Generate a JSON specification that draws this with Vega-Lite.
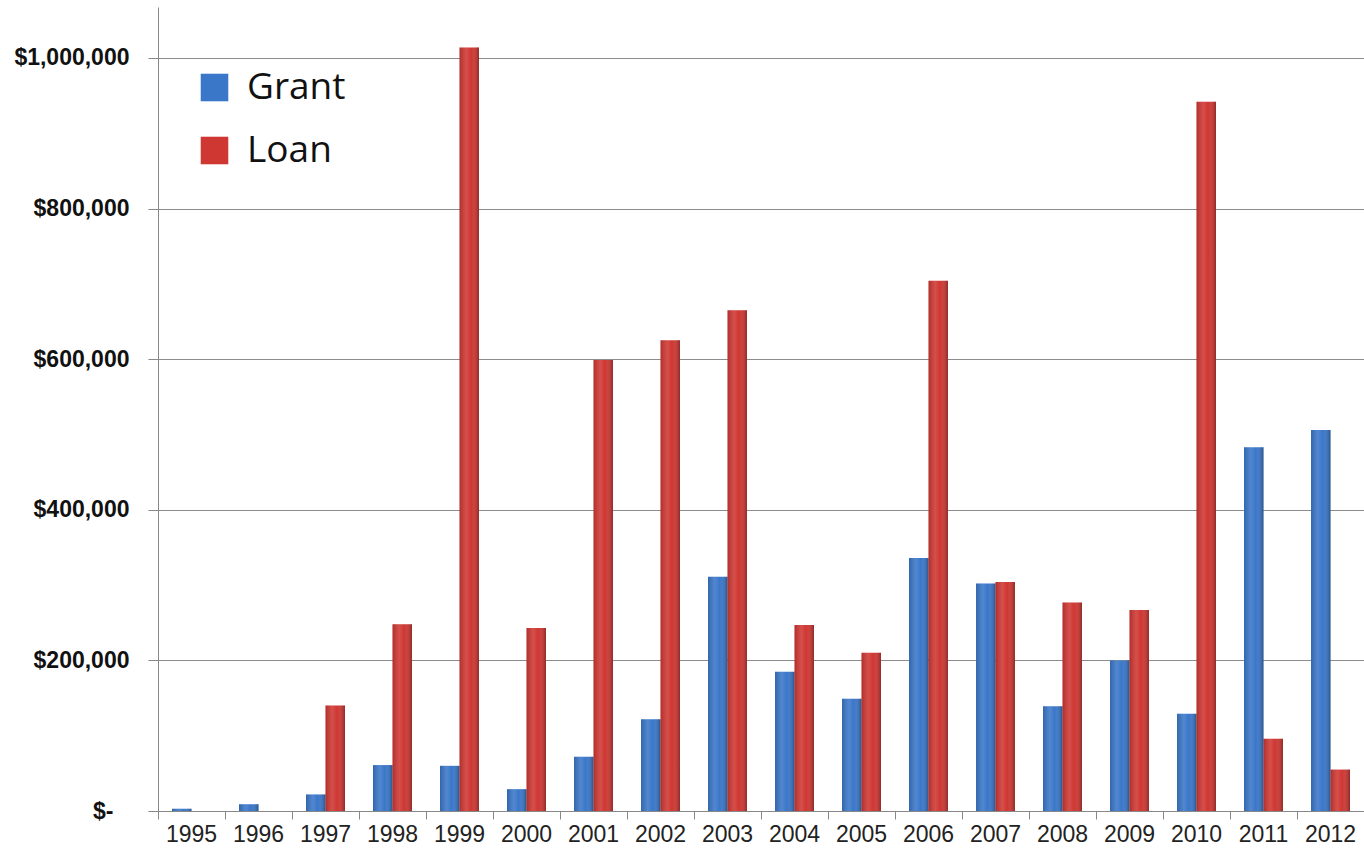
{
  "$schema": "https://vega.github.io/schema/vega-lite/v6.json",
  "autosize": {"type": "none"},
  "width": 1206,
  "height": 804,
  "padding": {"left": 158, "top": 7, "right": 0, "bottom": 46},
  "background": "white",
  "config": {"view": {"stroke": null}},
  "data": {
    "values": [
      {"year": "1995", "type": "Grant", "amount": 3000},
      {"year": "1995", "type": "Loan", "amount": 0},
      {"year": "1996", "type": "Grant", "amount": 9000},
      {"year": "1996", "type": "Loan", "amount": 0},
      {"year": "1997", "type": "Grant", "amount": 22000},
      {"year": "1997", "type": "Loan", "amount": 140000},
      {"year": "1998", "type": "Grant", "amount": 61000},
      {"year": "1998", "type": "Loan", "amount": 248000},
      {"year": "1999", "type": "Grant", "amount": 60000},
      {"year": "1999", "type": "Loan", "amount": 1014000},
      {"year": "2000", "type": "Grant", "amount": 29000},
      {"year": "2000", "type": "Loan", "amount": 243000},
      {"year": "2001", "type": "Grant", "amount": 72000},
      {"year": "2001", "type": "Loan", "amount": 599000},
      {"year": "2002", "type": "Grant", "amount": 122000},
      {"year": "2002", "type": "Loan", "amount": 625000},
      {"year": "2003", "type": "Grant", "amount": 311000},
      {"year": "2003", "type": "Loan", "amount": 665000},
      {"year": "2004", "type": "Grant", "amount": 185000},
      {"year": "2004", "type": "Loan", "amount": 247000},
      {"year": "2005", "type": "Grant", "amount": 149000},
      {"year": "2005", "type": "Loan", "amount": 210000},
      {"year": "2006", "type": "Grant", "amount": 336000},
      {"year": "2006", "type": "Loan", "amount": 704000},
      {"year": "2007", "type": "Grant", "amount": 302000},
      {"year": "2007", "type": "Loan", "amount": 304000},
      {"year": "2008", "type": "Grant", "amount": 139000},
      {"year": "2008", "type": "Loan", "amount": 277000},
      {"year": "2009", "type": "Grant", "amount": 200000},
      {"year": "2009", "type": "Loan", "amount": 267000},
      {"year": "2010", "type": "Grant", "amount": 129000},
      {"year": "2010", "type": "Loan", "amount": 942000},
      {"year": "2011", "type": "Grant", "amount": 483000},
      {"year": "2011", "type": "Loan", "amount": 96000},
      {"year": "2012", "type": "Grant", "amount": 506000},
      {"year": "2012", "type": "Loan", "amount": 55000}
    ]
  },
  "encoding": {
    "x": {
      "field": "year",
      "type": "nominal",
      "scale": {"paddingInner": 0, "paddingOuter": 0},
      "axis": {
        "title": null,
        "labelAngle": 0,
        "labelAlign": "center",
        "bandPosition": 0,
        "labelOffset": 0,
        "labelFont": "Liberation Sans, Arial",
        "labelFontSize": 23,
        "labelColor": "#222222",
        "labelPadding": 4,
        "tickSize": 8,
        "tickColor": "#888888",
        "domainColor": "#888888",
        "grid": false
      }
    },
    "xOffset": {
      "field": "type",
      "type": "nominal",
      "scale": {"paddingInner": 0, "paddingOuter": 0.72}
    },
    "y": {
      "field": "amount",
      "type": "quantitative",
      "scale": {"domain": [0, 1067700], "nice": false, "zero": true},
      "axis": {
        "title": null,
        "values": [0, 200000, 400000, 600000, 800000, 1000000],
        "labelExpr": "datum.value == 0 ? '$-\u2002\u2009\u200b' : '$' + format(datum.value, ',')",
        "labelFont": "Liberation Sans, Arial",
        "labelFontWeight": "bold",
        "labelFontSize": 23,
        "labelColor": "#111111",
        "labelPadding": 19,
        "tickSize": 10,
        "tickColor": "#888888",
        "domainColor": "#888888",
        "grid": true,
        "gridColor": "#8c8c8c",
        "gridWidth": 1
      }
    }
  },
  "layer": [
    {
      "mark": {"type": "bar"},
      "encoding": {
        "color": {
          "field": "type",
          "type": "nominal",
          "scale": {"domain": ["Grant", "Loan"], "range": ["#3a77c9", "#cf3732"]},
          "legend": {
            "title": null,
            "orient": "none",
            "legendX": 38,
            "legendY": 62,
            "symbolType": "square",
            "symbolSize": 760,
            "symbolStrokeWidth": 0,
            "labelFont": "Open Sans",
            "labelFontSize": 37,
            "labelColor": "#111111",
            "labelLimit": 300,
            "labelOffset": 14,
            "rowPadding": 25,
            "padding": 0
          }
        }
      }
    },
    {
      "mark": {
        "type": "bar",
        "fill": {
          "gradient": "linear",
          "x1": 0, "x2": 1, "y1": 0, "y2": 0,
          "stops": [
            {"offset": 0, "color": "rgba(0,0,0,0.15)"},
            {"offset": 0.35, "color": "rgba(255,255,255,0.12)"},
            {"offset": 0.6, "color": "rgba(255,255,255,0.0)"},
            {"offset": 1, "color": "rgba(0,0,0,0.3)"}
          ]
        }
      },
      "encoding": {}
    }
  ]
}
